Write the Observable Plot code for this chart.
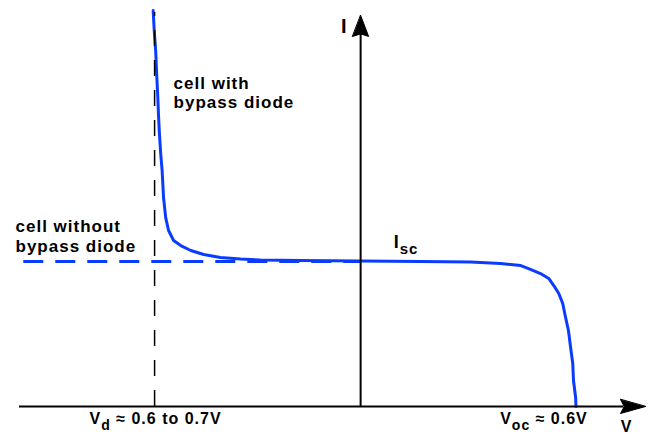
<!DOCTYPE html>
<html><head><meta charset="utf-8">
<script src="https://cdn.jsdelivr.net/npm/d3@7"></script>
<script src="https://cdn.jsdelivr.net/npm/@observablehq/plot@0.6"></script>
<style>
html,body{margin:0;padding:0;background:#fff;}
svg text{letter-spacing:1px;}
</style></head><body><div id="chart"></div>
<script>
// I–V curve of a solar cell with a bypass diode (schematic units: V in volts, I relative to Isc)
const curveV = [-0.579,-0.576,-0.572,-0.569,-0.566,-0.564,-0.562,-0.558,-0.554,-0.550,-0.544,-0.536,-0.522,-0.502,-0.474,-0.438,-0.391,-0.335,-0.279,-0.167,0.000,0.167,0.307,0.391,0.447,0.474,0.502,0.525,0.539,0.553,0.564,0.572,0.580,0.586,0.592,0.594,0.600,0.601];
const curveI = [2.731,2.593,2.455,2.283,2.131,2.007,1.903,1.745,1.628,1.441,1.303,1.214,1.145,1.110,1.076,1.048,1.028,1.017,1.010,1.007,1.003,1.000,0.997,0.986,0.972,0.945,0.917,0.883,0.834,0.779,0.710,0.614,0.524,0.407,0.297,0.179,0.062,0.000];
const Vd = -0.575, Voc = 0.601, Isc = 1.0;
const Vmin = -0.952, Vmax = 0.795, Imax = 2.731;
const VnoBypassStart = -0.940;
const labelI = "I", labelV = "V", labelIsc = "I_{sc}";
const labelVd = "V_{d} ≈ 0.6 to 0.7V", labelVoc = "V_{oc} ≈ 0.6V";
const labelWith = ["cell with", "bypass diode"];
const labelWithout = ["cell without", "bypass diode"];

const curve = curveV.map((v, i) => ({V: v, I: curveI[i]}));
const blue = "#0a3cff";

function headShape(w, notch) {
  return {draw(ctx, l) {
    ctx.moveTo(0, -l);
    ctx.lineTo(w, 0);
    ctx.lineTo(0, -l * notch);
    ctx.lineTo(-w, 0);
    ctx.closePath();
  }};
}

const txt = {fontWeight: "bold", lineAnchor: "bottom", fill: "black"};

const plot = Plot.plot({
  width: 653, height: 434,
  marginLeft: 19, marginRight: 8, marginTop: 10, marginBottom: 28,
  x: {domain: [Vmin, Vmax], axis: null},
  y: {domain: [0, Imax], axis: null},
  style: {fontFamily: "'Liberation Sans', Arial, sans-serif", background: "white", overflow: "visible"},
  marks: [
    Plot.ruleY([Isc], {x1: VnoBypassStart, x2: 0, stroke: blue, strokeWidth: 3, strokeDasharray: "20,12"}),
    Plot.line(curve, {x: "V", y: "I", stroke: blue, strokeWidth: 3, curve: "linear"}),
    Plot.ruleX([Vd], {y1: 0, y2: 2.717, stroke: "black", strokeWidth: 1.5, strokeDasharray: "16,14"}),
    Plot.ruleY([0], {x1: Vmin, x2: 0.735, stroke: "black", strokeWidth: 2}),
    Plot.ruleX([0], {y1: 0, y2: 2.62, stroke: "black", strokeWidth: 2}),
    Plot.vector([Vmax], {x: d => d, y: 0, length: 25, rotate: 90, anchor: "end", shape: headShape(7, 0.15), fill: "black", stroke: "black", strokeWidth: 1}),
    Plot.vector([2.697], {x: 0, y: d => d, length: 21, rotate: 0, anchor: "end", shape: headShape(8, 0.12), fill: "black", stroke: "black", strokeWidth: 1}),
    Plot.text([labelI], {...txt, x: 0, y: Imax, dx: -13, dy: 22, textAnchor: "end", fontSize: 20}),
    Plot.text([labelV], {...txt, x: Vmax, y: 0, dx: -19, dy: 25, textAnchor: "middle", fontSize: 16}),
    Plot.text([labelIsc], {...txt, x: 0, y: Isc, dx: 33, dy: -13, textAnchor: "start", fontSize: 18}),
    Plot.text([labelVd], {...txt, x: Vd, y: 0, dx: 1, dy: 17, textAnchor: "middle", fontSize: 16}),
    Plot.text([labelVoc], {...txt, x: Voc, y: 0, dx: -32, dy: 17, textAnchor: "middle", fontSize: 16}),
    Plot.text([labelWith[0]], {...txt, x: Vd, y: Imax, dx: 19, dy: 78, textAnchor: "start", fontSize: 17}),
    Plot.text([labelWith[1]], {...txt, x: Vd, y: Imax, dx: 19, dy: 97, textAnchor: "start", fontSize: 17}),
    Plot.text([labelWithout[0]], {...txt, x: Vmin, y: Isc, dx: -4, dy: -29, textAnchor: "start", fontSize: 17}),
    Plot.text([labelWithout[1]], {...txt, x: Vmin, y: Isc, dx: -4, dy: -9, textAnchor: "start", fontSize: 17})
  ]
});
document.getElementById("chart").appendChild(plot);

// turn "_{...}" into subscript tspans
plot.querySelectorAll("text").forEach(el => {
  const m = el.textContent.match(/^(.*?)_\{(.*?)\}(.*)$/);
  if (!m) return;
  const fs = parseFloat(getComputedStyle(el).fontSize) || 16;
  const shift = Math.round(fs * 0.36);
  el.textContent = "";
  const ns = "http://www.w3.org/2000/svg";
  const a = document.createElementNS(ns, "tspan"); a.textContent = m[1]; el.appendChild(a);
  const b = document.createElementNS(ns, "tspan"); b.textContent = m[2];
  b.setAttribute("dy", shift); b.setAttribute("font-size", Math.round(fs * 0.85)); el.appendChild(b);
  if (m[3]) { const c = document.createElementNS(ns, "tspan"); c.textContent = m[3]; c.setAttribute("dy", -shift); el.appendChild(c); }
});
</script></body></html>
